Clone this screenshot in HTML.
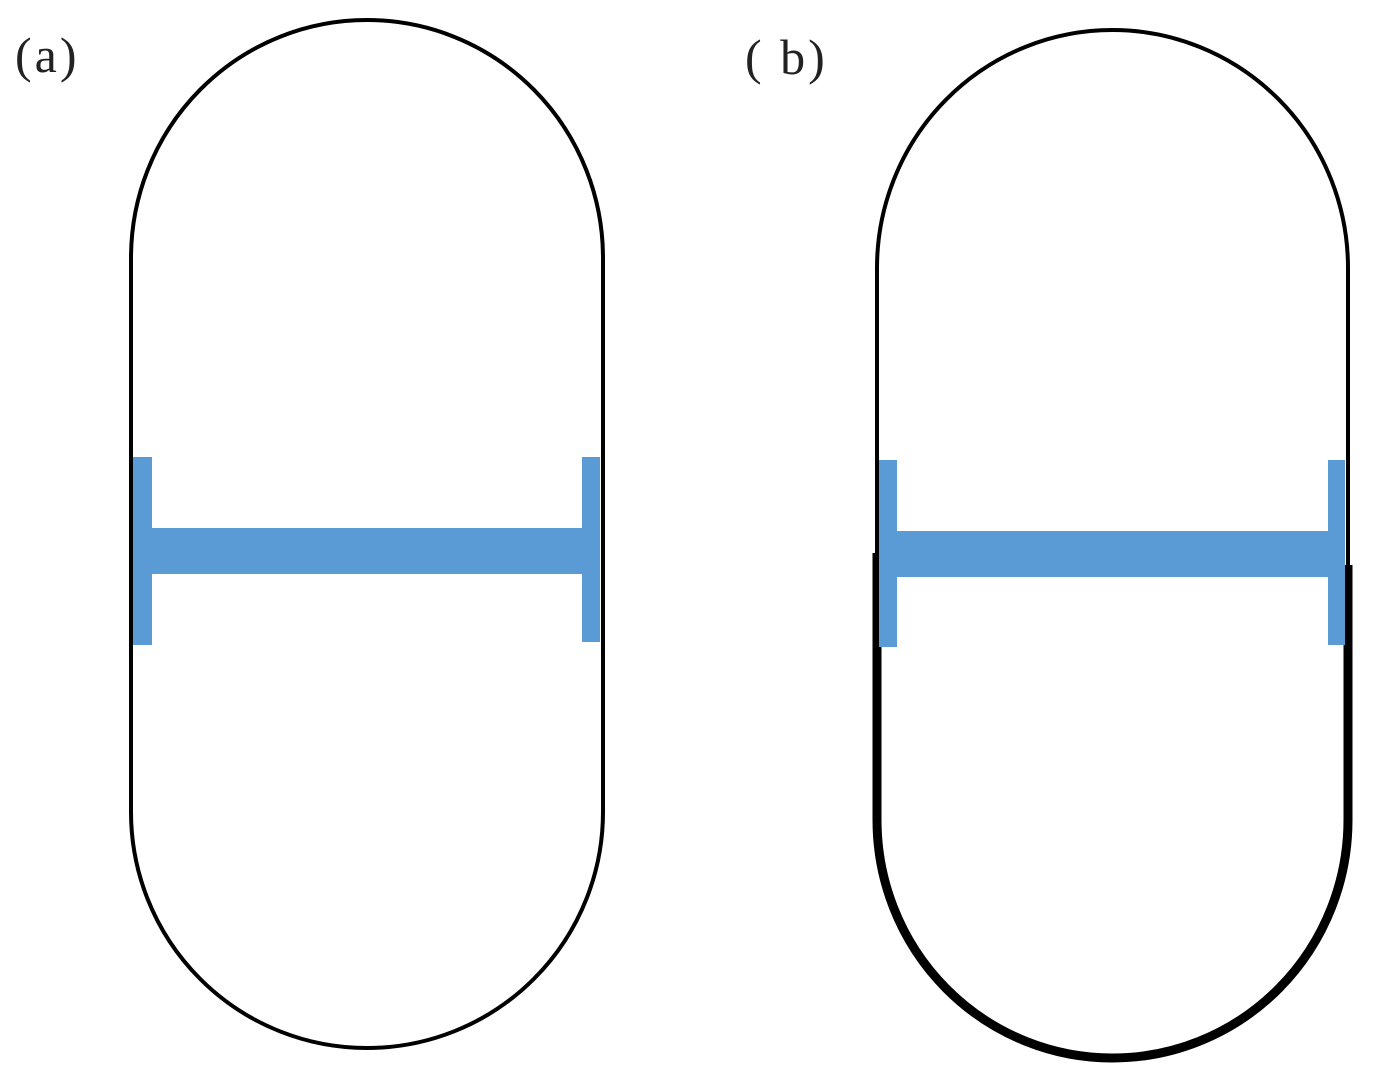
<!DOCTYPE html>
<html><head><style>
html,body{margin:0;padding:0;background:#fff;width:1388px;height:1088px;overflow:hidden}
</style></head><body>
<svg width="1388" height="1088" viewBox="0 0 1388 1088" xmlns="http://www.w3.org/2000/svg">
<text x="15" y="72" font-family="Liberation Serif, serif" font-size="50" fill="#222" letter-spacing="3">(a)</text>
<text x="745" y="74" font-family="Liberation Serif, serif" font-size="50" fill="#222" letter-spacing="3">( b)</text>
<!-- (a) -->
<path d="M131,258 A236,238 0 0 1 603,258 L603,812 A236,236 0 0 1 131,812 Z" fill="none" stroke="#000" stroke-width="4"/>
<rect x="133" y="457" width="19" height="188" fill="#5b9bd5"/>
<rect x="582" y="457" width="18" height="185" fill="#5b9bd5"/>
<rect x="152" y="528" width="430" height="46" fill="#5b9bd5"/>
<!-- (b) -->
<path d="M877,268 A235.5,238 0 0 1 1348,268 L1348,820 A235.5,238 0 0 1 877,820 Z" fill="none" stroke="#000" stroke-width="4"/>
<path d="M877,553 L877,820 A235.5,238 0 0 0 1348,820 L1348,565" fill="none" stroke="#000" stroke-width="9"/>
<rect x="879" y="460" width="18" height="187" fill="#5b9bd5"/>
<rect x="1328" y="460" width="17" height="185" fill="#5b9bd5"/>
<rect x="897" y="531" width="431" height="46" fill="#5b9bd5"/>
</svg>
</body></html>
